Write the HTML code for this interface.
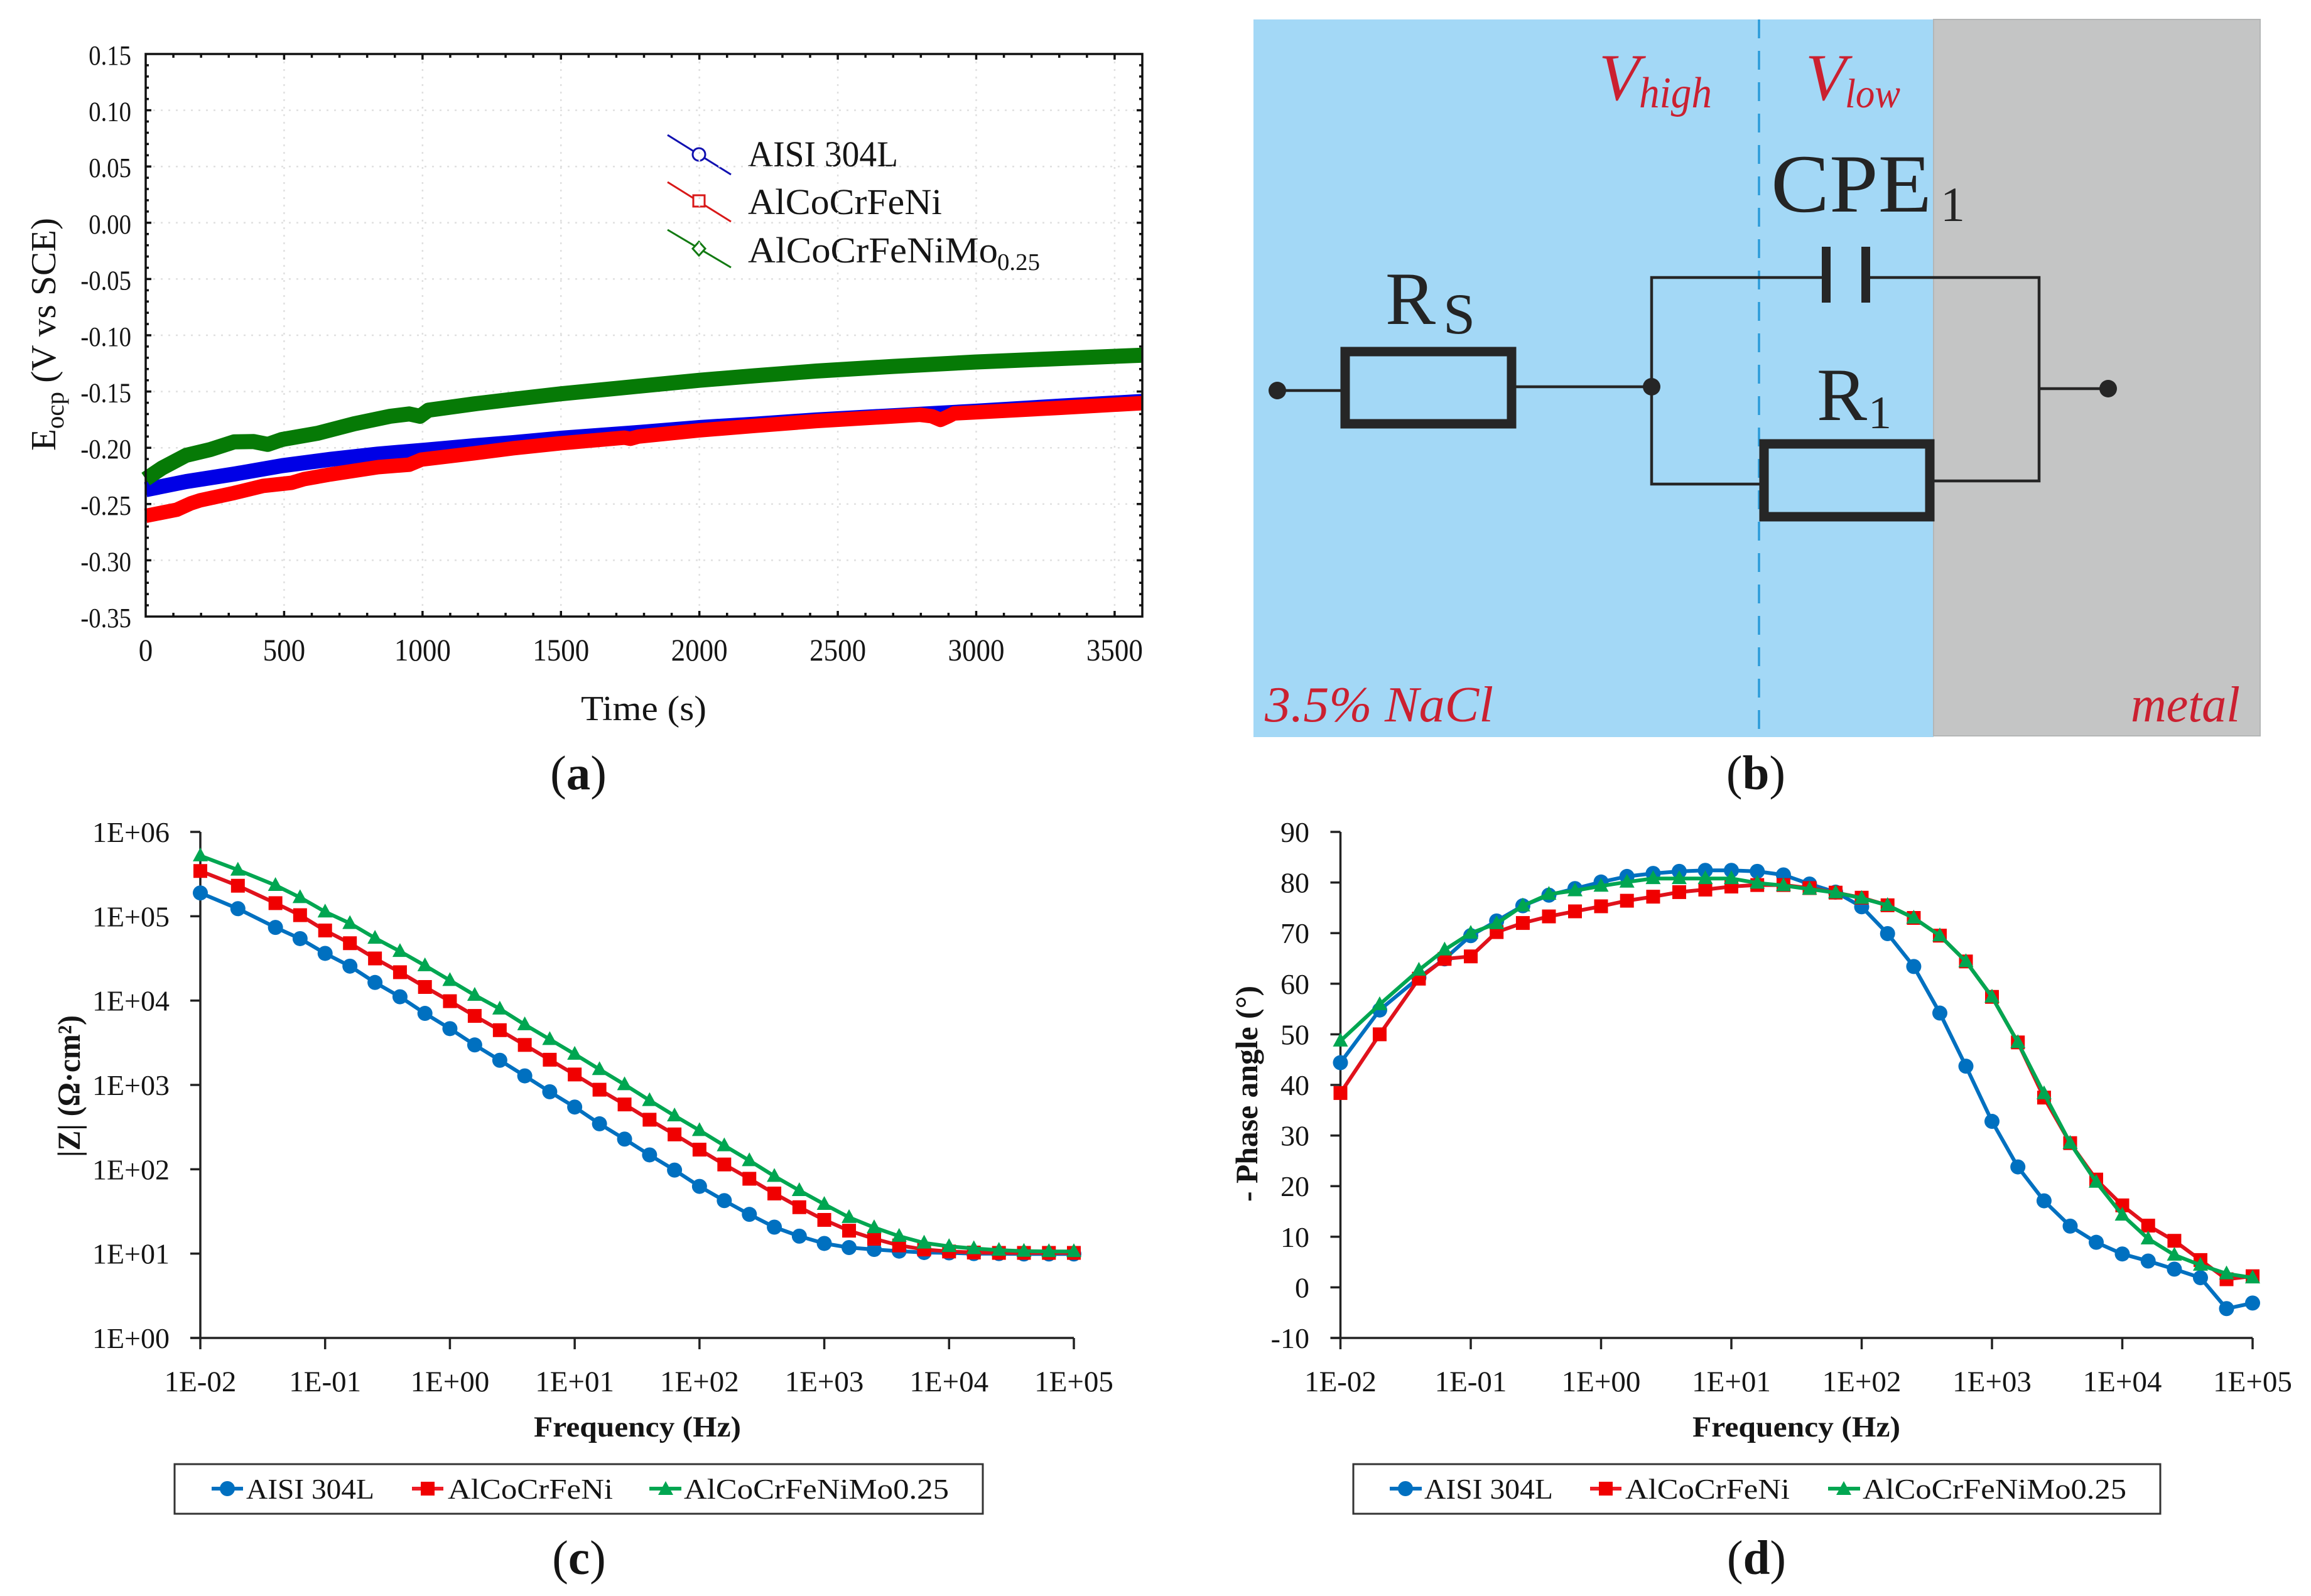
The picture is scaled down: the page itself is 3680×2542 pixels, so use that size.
<!DOCTYPE html>
<html lang="en">
<head>
<meta charset="utf-8">
<title>Electrochemical measurements figure</title>
<style>
html,body{margin:0;padding:0;background:#fff}
svg{display:block}
text{font-family:"Liberation Serif","DejaVu Serif",serif;fill:#151515}
.red{fill:#cb2030;font-style:italic}
.dk{fill:#242424}
</style>
</head>
<body>
<svg id="fig" xmlns="http://www.w3.org/2000/svg" width="3680" height="2542" viewBox="0 0 3680 2542">
<rect width="3680" height="2542" fill="#fff"/>

<g id="panel-a">
  <text transform="translate(88,718) rotate(-90)" font-size="56" textLength="371" lengthAdjust="spacingAndGlyphs">E<tspan font-size="40" dy="13">ocp</tspan><tspan dy="-13"> (V vs SCE)</tspan></text>
  <text x="925" y="1147" font-size="56" textLength="200" lengthAdjust="spacingAndGlyphs">Time (s)</text>
  <g>
    <g>
      <line x1="1063" y1="215" x2="1164" y2="278" stroke="#1010b0" stroke-width="3"/>
      <circle cx="1113" cy="246" r="10" fill="#fff" stroke="#1010b0" stroke-width="3"/>
      <text x="1191" y="265" font-size="58" textLength="239" lengthAdjust="spacingAndGlyphs">AISI 304L</text>
    </g>
    <g>
      <line x1="1063" y1="290" x2="1164" y2="353" stroke="#d81818" stroke-width="3"/>
      <rect x="1104" y="311" width="18" height="18" fill="#fff" stroke="#d81818" stroke-width="3"/>
      <text x="1191" y="341" font-size="58" textLength="309" lengthAdjust="spacingAndGlyphs">AlCoCrFeNi</text>
    </g>
    <g>
      <line x1="1063" y1="366" x2="1164" y2="426" stroke="#127a12" stroke-width="3"/>
      <polygon points="1113,385 1123,396 1113,407 1103,396" fill="#fff" stroke="#127a12" stroke-width="3"/>
      <text x="1191" y="418" font-size="58" textLength="398" lengthAdjust="spacingAndGlyphs">AlCoCrFeNiMo</text>
      <text x="1588" y="430" font-size="38" textLength="68" lengthAdjust="spacingAndGlyphs">0.25</text>
    </g>
  </g>
</g>
<text x="921" y="1257" font-size="77" text-anchor="middle">(<tspan font-weight="bold">a</tspan>)</text>

<g id="panel-b">
  <rect x="1996" y="31" width="1083" height="1143" fill="#a3d8f6"/>
  <rect x="3079" y="31" width="520" height="1141" fill="#c4c5c5" stroke="#b4b6b6" stroke-width="2"/>
  <line x1="2801" y1="31" x2="2801" y2="1174" stroke="#2b9bd8" stroke-width="3.5" stroke-dasharray="30 20"/>
  <g fill="none" stroke="#262626" stroke-width="4.5">
    <line x1="2034" y1="622" x2="2135" y2="622"/>
    <line x1="2414" y1="616" x2="2630" y2="616"/>
    <polyline points="2908,442 2630,442 2630,771 2802,771"/>
    <polyline points="2971,442 3247,442 3247,766 3080,766"/>
    <line x1="3247" y1="619" x2="3357" y2="619"/>
  </g>
  <circle cx="2034" cy="622" r="14" fill="#262626"/>
  <circle cx="2630" cy="616" r="14" fill="#262626"/>
  <circle cx="3357" cy="619" r="14" fill="#262626"/>
  <rect x="2142" y="560" width="265" height="115" fill="none" stroke="#262626" stroke-width="15"/>
  <rect x="2809" y="707" width="264" height="116" fill="none" stroke="#262626" stroke-width="15"/>
  <g fill="#262626">
    <rect x="2901" y="393" width="14" height="89"/>
    <rect x="2964" y="393" width="14" height="89"/>
  </g>
  <text class="red" x="2546" y="159" font-size="106">V</text>
  <text class="red" x="2610" y="171" font-size="70" textLength="116" lengthAdjust="spacingAndGlyphs">high</text>
  <text class="red" x="2875" y="159" font-size="106">V</text>
  <text class="red" x="2938" y="171" font-size="66" textLength="88" lengthAdjust="spacingAndGlyphs">low</text>
  <text class="dk" x="2820" y="337" font-size="132" textLength="256" lengthAdjust="spacingAndGlyphs">CPE</text>
  <text class="dk" x="3090" y="352" font-size="78">1</text>
  <text class="dk" x="2206" y="516" font-size="120">R</text>
  <text class="dk" x="2298" y="531" font-size="92">S</text>
  <text class="dk" x="2893" y="669" font-size="120">R</text>
  <text class="dk" x="2975" y="682" font-size="74">1</text>
  <text class="red" x="2014" y="1149" font-size="80" textLength="364" lengthAdjust="spacingAndGlyphs">3.5% NaCl</text>
  <text class="red" x="3393" y="1149" font-size="80" textLength="174" lengthAdjust="spacingAndGlyphs">metal</text>
</g>
<text x="2796" y="1257" font-size="77" text-anchor="middle">(<tspan font-weight="bold">b</tspan>)</text>

<g id="panel-c">
  <text transform="translate(127,1843) rotate(-90)" font-size="51" font-weight="bold" textLength="226" lengthAdjust="spacingAndGlyphs">|Z| (Ω·cm²)</text>
  <text x="850" y="2288" font-size="47" font-weight="bold" textLength="330" lengthAdjust="spacingAndGlyphs">Frequency (Hz)</text>
  <g>
    <rect x="278" y="2332" width="1287" height="79" fill="#fff" stroke="#333" stroke-width="3"/>
    <g>
      <line x1="337" y1="2371" x2="387" y2="2371" stroke="#0070c0" stroke-width="6"/>
      <circle cx="362" cy="2371" r="12" fill="#0070c0"/>
      <text x="392" y="2387" font-size="46" textLength="204" lengthAdjust="spacingAndGlyphs">AISI 304L</text>
    </g>
    <g>
      <line x1="656" y1="2371" x2="706" y2="2371" stroke="#ee1c25" stroke-width="6"/>
      <rect x="670" y="2360" width="22" height="22" fill="#f00000"/>
      <text x="713" y="2387" font-size="46" textLength="263" lengthAdjust="spacingAndGlyphs">AlCoCrFeNi</text>
    </g>
    <g>
      <line x1="1034" y1="2371" x2="1085" y2="2371" stroke="#00a651" stroke-width="6"/>
      <polygon points="1060,2359 1072,2381 1048,2381" fill="#00a651"/>
      <text x="1089" y="2387" font-size="46" textLength="422" lengthAdjust="spacingAndGlyphs">AlCoCrFeNiMo0.25</text>
    </g>
  </g>
</g>
<text x="922" y="2507" font-size="77" text-anchor="middle">(<tspan font-weight="bold">c</tspan>)</text>

<g id="panel-d">
  <text transform="translate(2002,1914) rotate(-90)" font-size="50" font-weight="bold" textLength="344" lengthAdjust="spacingAndGlyphs">- Phase angle (°)</text>
  <text x="2695" y="2288" font-size="47" font-weight="bold" textLength="331" lengthAdjust="spacingAndGlyphs">Frequency (Hz)</text>
  <g>
    <rect x="2155" y="2332" width="1285" height="79" fill="#fff" stroke="#333" stroke-width="3"/>
    <g>
      <line x1="2213" y1="2371" x2="2264" y2="2371" stroke="#0070c0" stroke-width="6"/>
      <circle cx="2238" cy="2371" r="12" fill="#0070c0"/>
      <text x="2268" y="2387" font-size="46" textLength="205" lengthAdjust="spacingAndGlyphs">AISI 304L</text>
    </g>
    <g>
      <line x1="2532" y1="2371" x2="2582" y2="2371" stroke="#ee1c25" stroke-width="6"/>
      <rect x="2546" y="2360" width="22" height="22" fill="#f00000"/>
      <text x="2588" y="2387" font-size="46" textLength="262" lengthAdjust="spacingAndGlyphs">AlCoCrFeNi</text>
    </g>
    <g>
      <line x1="2911" y1="2371" x2="2962" y2="2371" stroke="#00a651" stroke-width="6"/>
      <polygon points="2936,2359 2948,2381 2924,2381" fill="#00a651"/>
      <text x="2966" y="2387" font-size="46" textLength="420" lengthAdjust="spacingAndGlyphs">AlCoCrFeNiMo0.25</text>
    </g>
  </g>
</g>
<text x="2797" y="2507" font-size="77" text-anchor="middle">(<tspan font-weight="bold">d</tspan>)</text>
</svg>

<script>
// ---- panel (a) data: open circuit potential vs time ----
const ocpXTickValues = [0, 500, 1000, 1500, 2000, 2500, 3000, 3500];
const ocpYTickValues = [0.15, 0.10, 0.05, 0.00, -0.05, -0.10, -0.15, -0.20, -0.25, -0.30, -0.35];
const ocpYTickLabels = ['0.15', '0.10', '0.05', '0.00', '-0.05', '-0.10', '-0.15', '-0.20', '-0.25', '-0.30', '-0.35'];
const aisiTime = [0, 146, 320, 493, 666, 840, 1012, 1186, 1325, 1500, 1750, 2000, 2200, 2422, 2996, 3300, 3600];
const aisiOcp = [-0.2373, -0.2300, -0.2233, -0.2159, -0.2103, -0.2056, -0.2020, -0.1982, -0.1955, -0.1915, -0.1870, -0.1820, -0.1790, -0.1752, -0.1675, -0.1630, -0.1588];
const hea1Time = [0, 112, 163, 198, 320, 424, 528, 571, 666, 840, 952, 996, 1186, 1325, 1500, 1730, 1750, 1780, 2000, 2200, 2422, 2797, 2840, 2871, 2900, 2920, 2996, 3300, 3600];
const hea1Ocp = [-0.2605, -0.2551, -0.2494, -0.2466, -0.2401, -0.2339, -0.2311, -0.2279, -0.2237, -0.2172, -0.2150, -0.2105, -0.2049, -0.2005, -0.1960, -0.1910, -0.1920, -0.1900, -0.1845, -0.1805, -0.1763, -0.1707, -0.1720, -0.1752, -0.1720, -0.1695, -0.1685, -0.1645, -0.1603];
const hea2Time = [0, 59, 146, 233, 320, 390, 441, 493, 623, 753, 883, 952, 991, 1021, 1186, 1325, 1500, 1750, 2000, 2200, 2422, 2700, 2996, 3300, 3600];
const hea2Ocp = [-0.2278, -0.2180, -0.2067, -0.2016, -0.1947, -0.1945, -0.1970, -0.1926, -0.1870, -0.1787, -0.1720, -0.1699, -0.1720, -0.1666, -0.1610, -0.1569, -0.1520, -0.1460, -0.1400, -0.1360, -0.1318, -0.1277, -0.1238, -0.1207, -0.1177];

// ---- panels (c), (d) data: frequency categories and series ----
const frequencyHz = [0.01,0.02,0.04,0.063,0.1,0.158,0.251,0.398,0.631,1,1.58,2.51,3.98,6.31,10,15.8,25.1,39.8,63.1,100,158,251,398,631,1000,1580,2510,3980,6310,10000,15800,25100,39800,63100,100000];
const decadeTickHz = [0.01, 0.1, 1, 10, 100, 1000, 10000, 100000];
const decadeTickLabels = ['1E-02', '1E-01', '1E+00', '1E+01', '1E+02', '1E+03', '1E+04', '1E+05'];
const modulusTickValues = [1, 10, 100, 1000, 10000, 100000, 1000000];
const modulusTickLabels = ['1E+00', '1E+01', '1E+02', '1E+03', '1E+04', '1E+05', '1E+06'];
const phaseTickValues = [-10, 0, 10, 20, 30, 40, 50, 60, 70, 80, 90];
const phaseTickLabels = ['-10', '0', '10', '20', '30', '40', '50', '60', '70', '80', '90'];

const modulusAisi = [1.89e5,1.23e5,7.37e4,5.43e4,3.63e4,2.56e4,1.64e4,1.11e4,7.05e3,4.65e3,2.98e3,1.96e3,1.28e3,830,547,346,228,148,97.8,62.7,42.5,29.2,20.6,16.1,13.2,11.8,11.2,10.7,10.3,10.2,10.0,10.0,9.89,9.89,9.89];
const modulusHea1 = [3.44e5,2.30e5,1.43e5,1.03e5,6.78e4,4.79e4,3.16e4,2.17e4,1.45e4,9.84e3,6.58e3,4.46e3,2.98e3,1.99e3,1.33e3,878,587,387,259,171,114,77.2,51.6,35.5,25.1,18.7,15.0,12.5,11.2,10.6,10.3,10.2,10.2,10.2,10.2];
const modulusHea2 = [5.22e5,3.54e5,2.33e5,1.67e5,1.13e5,8.24e4,5.51e4,3.84e4,2.60e4,1.74e4,1.16e4,7.98e3,5.19e3,3.47e3,2.32e3,1.53e3,1.01e3,656,432,289,191,127,82.8,56.1,38.5,26.9,20.4,16.1,13.4,12.2,11.5,11.0,10.7,10.6,10.6];

const phaseAisi = [44.4,54.8,61.2,64.9,69.5,72.4,75.4,77.5,78.8,80.1,81.2,81.8,82.2,82.4,82.4,82.2,81.5,79.7,78.1,75.2,69.9,63.4,54.2,43.7,32.8,23.8,17.1,12.1,8.9,6.6,5.2,3.6,1.9,-4.2,-3.1];
const phaseHea1 = [38.4,50.0,61.0,64.9,65.4,70.2,72.0,73.3,74.3,75.3,76.4,77.2,78.1,78.6,79.2,79.5,79.5,78.9,78.0,77.0,75.5,73.0,69.5,64.4,57.4,48.4,37.5,28.5,21.3,16.2,12.2,9.2,5.4,1.6,2.2];
const phaseHea2 = [48.7,55.9,62.7,66.7,70.0,71.9,75.4,77.7,78.4,79.3,80.1,80.8,80.8,80.8,80.8,79.9,79.4,78.7,78.0,76.9,75.5,73.0,69.5,64.4,57.4,48.4,38.3,28.5,20.8,14.3,9.6,6.4,4.4,2.7,1.9];

const NS = 'http://www.w3.org/2000/svg';
function mk(tag, attrs, parent) {
  const el = document.createElementNS(NS, tag);
  for (const k in attrs) el.setAttribute(k, attrs[k]);
  parent.appendChild(el);
  return el;
}
function pts(xs, ys, sx, sy) {
  return xs.map((x, i) => sx(x).toFixed(1) + ',' + sy(ys[i]).toFixed(1)).join(' ');
}

// ---- panel (a) ----
(function () {
  const root = document.getElementById('panel-a');
  const L = 232, R = 1819, T = 86, B = 982;
  const sx = t => L + (t / 3600) * (R - L);
  const sy = v => T + ((0.15 - v) / 0.5) * (B - T);

  const grid = mk('g', {stroke: '#e0e0e0', 'stroke-width': 2.5, 'stroke-dasharray': '3 9'}, root);
  
  
  ocpXTickValues.slice(1).forEach(t => {
    const g = mk('line', {x1: sx(t), x2: sx(t), y1: T, y2: B}, grid);
    
    
  });
  ocpYTickValues.slice(1, -1).forEach(v => {
    const g = mk('line', {x1: L, x2: R, y1: sy(v), y2: sy(v)}, grid);
    
    
  });

  const ticks = mk('g', {stroke: '#111', 'stroke-width': 3.5}, root);
  
  
  for (let i = 1; i < 36; i++) {
    const x = sx(i * 100), len = i % 5 === 0 ? 9 : 6;
    const a = mk('line', {x1: x, x2: x, y1: B, y2: B - len}, ticks);
    
    
    const b = mk('line', {x1: x, x2: x, y1: T, y2: T + len}, ticks);
    
    
  }
  for (let i = 1; i < 50; i++) {
    const y = T + i * (B - T) / 50, len = i % 5 === 0 ? 9 : 5;
    const a = mk('line', {x1: L, x2: L + len, y1: y, y2: y}, ticks);
    
    
    const b = mk('line', {x1: R, x2: R - len, y1: y, y2: y}, ticks);
    
    
  }

  const seriesA = mk('polyline', {points: pts(aisiTime, aisiOcp, sx, sy), fill: 'none', stroke: '#0000e6', 'stroke-width': 24, 'stroke-linejoin': 'round'}, root);
  
  
  const seriesB = mk('polyline', {points: pts(hea1Time, hea1Ocp, sx, sy), fill: 'none', stroke: '#ff0000', 'stroke-width': 23, 'stroke-linejoin': 'round'}, root);
  
  
  const seriesC = mk('polyline', {points: pts(hea2Time, hea2Ocp, sx, sy), fill: 'none', stroke: '#067a06', 'stroke-width': 24, 'stroke-linejoin': 'round'}, root);
  
  

  const frame = mk('rect', {x: L, y: T, width: R - L, height: B - T, fill: 'none', stroke: '#111', 'stroke-width': 3.5}, root);
  
  

  ocpXTickValues.forEach(t => {
    const lab = mk('text', {transform: 'translate(' + sx(t) + ',1052) scale(0.9,1)', 'font-size': 50, 'text-anchor': 'middle'}, root);
    lab.textContent = String(t);
    
    
  });
  ocpYTickValues.forEach((v, i) => {
    const lab = mk('text', {transform: 'translate(209,' + (sy(v) + 17) + ') scale(0.88,1)', 'font-size': 44, 'text-anchor': 'end'}, root);
    lab.textContent = ocpYTickLabels[i];
    
    
  });
})();

// ---- panels (c) and (d) ----
function drawEis(rootId, L, R, T, B, sy, yVals, yLabs, labelRight, sA, sB, sC) {
  const root = document.getElementById(rootId);
  const sx = f => L + (Math.log10(f) + 2) / 7 * (R - L);

  const axes = mk('g', {stroke: '#222', 'stroke-width': 3.5}, root);
  
  
  const yAxis = mk('line', {x1: L, x2: L, y1: T, y2: B}, axes);
  
  
  const xAxis = mk('line', {x1: L - 16, x2: R, y1: B, y2: B}, axes);
  
  

  yVals.forEach((v, i) => {
    const y = sy(v);
    const tick = mk('line', {x1: L - 16, x2: L, y1: y, y2: y}, axes);
    
    
    const lab = mk('text', {x: labelRight, y: y + 16, 'font-size': 46, 'text-anchor': 'end'}, root);
    lab.textContent = yLabs[i];
    
    
  });
  decadeTickHz.forEach((f, i) => {
    const x = sx(f);
    const tick = mk('line', {x1: x, x2: x, y1: B, y2: B + 18}, axes);
    
    
    const lab = mk('text', {x: x, y: 2216, 'font-size': 47, 'text-anchor': 'middle'}, root);
    lab.textContent = decadeTickLabels[i];
    
    
  });

  const lineA = mk('polyline', {points: pts(frequencyHz, sA, sx, sy), fill: 'none', stroke: '#0070c0', 'stroke-width': 6, 'stroke-linejoin': 'round'}, root);
  
  
  frequencyHz.forEach((f, i) => {
    const m = mk('circle', {cx: sx(f), cy: sy(sA[i]), r: 12, fill: '#0070c0'}, root);
    
    
  });
  const lineB = mk('polyline', {points: pts(frequencyHz, sB, sx, sy), fill: 'none', stroke: '#e0121c', 'stroke-width': 6, 'stroke-linejoin': 'round'}, root);
  
  
  frequencyHz.forEach((f, i) => {
    const m = mk('rect', {x: sx(f) - 11, y: sy(sB[i]) - 11, width: 22, height: 22, fill: '#f00000'}, root);
    
    
  });
  const lineC = mk('polyline', {points: pts(frequencyHz, sC, sx, sy), fill: 'none', stroke: '#00a651', 'stroke-width': 6, 'stroke-linejoin': 'round'}, root);
  
  
  frequencyHz.forEach((f, i) => {
    const x = sx(f), y = sy(sC[i]);
    const m = mk('polygon', {points: x + ',' + (y - 13) + ' ' + (x + 12) + ',' + (y + 9) + ' ' + (x - 12) + ',' + (y + 9), fill: '#00a651'}, root);
    
    
  });
}

drawEis('panel-c', 319, 1710, 1325, 2131,
  v => 2131 - Math.log10(v) / 6 * (2131 - 1325),
  modulusTickValues, modulusTickLabels, 270, modulusAisi, modulusHea1, modulusHea2);

drawEis('panel-d', 2134.5, 3587, 1325, 2131,
  v => 1325 + (90 - v) / 100 * (2131 - 1325),
  phaseTickValues, phaseTickLabels, 2085, phaseAisi, phaseHea1, phaseHea2);
</script>
</body>
</html>
